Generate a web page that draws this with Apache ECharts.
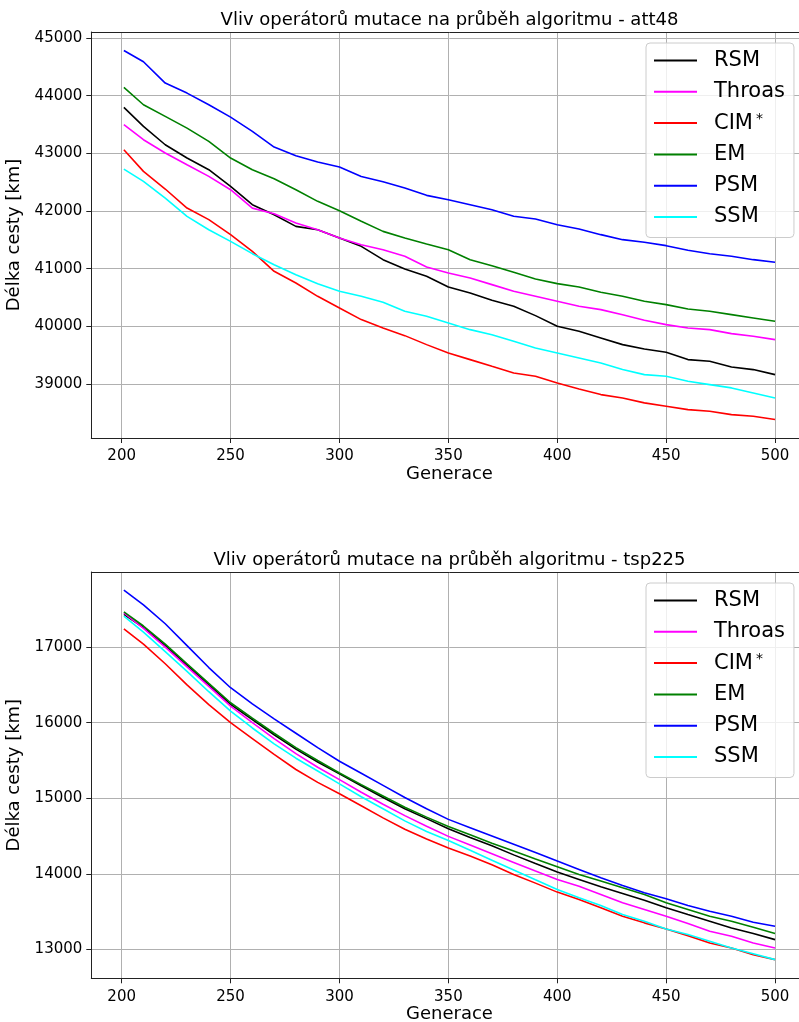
<!DOCTYPE html>
<html>
<head>
<meta charset="utf-8">
<script src="https://cdn.jsdelivr.net/npm/echarts@6/dist/echarts.min.js"></script>
<style>
html,body{margin:0;padding:0;background:#fff;overflow:hidden;width:799px;height:1022px;}
#c{width:830px;height:1022px;}
</style>
</head>
<body>
<div id="c"></div>
<script>
// ---- data ----
const generations = [201,210,220,230,240,250,260,270,280,290,300,310,320,330,340,350,360,370,380,390,400,410,420,430,440,450,460,470,480,490,500];
const seriesNames = ['RSM','Throas','CIM*','EM','PSM','SSM'];
const seriesColors = ['#000000','#ff00ff','#ff0000','#008000','#0000ff','#00ffff'];

// att48
const att48_RSM    = [43798,43468,43150,42919,42717,42428,42110,41936,41734,41676,41532,41387,41156,40994,40867,40682,40578,40451,40347,40185,40000,39913,39798,39682,39607,39549,39422,39393,39295,39249,39162];
const att48_Throas = [43497,43237,43006,42803,42601,42370,42050,41954,41792,41676,41532,41416,41329,41214,41029,40925,40838,40723,40607,40520,40434,40347,40289,40202,40104,40029,39971,39942,39873,39827,39769];
const att48_CIM    = [43064,42688,42382,42052,41850,41590,41301,40954,40751,40520,40318,40116,39971,39838,39682,39538,39422,39306,39191,39133,39017,38913,38815,38757,38671,38613,38555,38526,38468,38439,38382];
const att48_EM     = [44145,43844,43642,43439,43208,42919,42717,42561,42370,42168,42006,41821,41647,41532,41428,41329,41156,41052,40936,40821,40740,40682,40590,40520,40434,40376,40301,40260,40202,40145,40087];
const att48_PSM    = [44786,44590,44220,44046,43844,43630,43382,43110,42960,42850,42763,42600,42509,42399,42272,42197,42110,42023,41908,41861,41763,41688,41590,41503,41457,41399,41318,41260,41214,41156,41110];
const att48_SSM    = [42728,42514,42225,41908,41676,41474,41260,41069,40896,40740,40607,40520,40416,40260,40173,40058,39942,39855,39740,39624,39538,39451,39364,39249,39162,39133,39046,38988,38931,38844,38757];

// tsp225
const tsp225_RSM    = [17433,17260,17020,16760,16500,16242,16040,15840,15650,15480,15325,15165,15010,14860,14730,14595,14480,14370,14250,14135,14022,13925,13827,13739,13650,13549,13460,13372,13283,13208,13128];
const tsp225_Throas = [17455,17250,17000,16740,16480,16220,16000,15790,15590,15410,15246,15080,14920,14770,14630,14495,14380,14265,14150,14035,13925,13836,13726,13615,13527,13438,13341,13239,13173,13084,13018];
const tsp225_CIM    = [17243,17040,16780,16500,16240,16000,15790,15580,15380,15210,15060,14900,14740,14590,14460,14340,14235,14119,13991,13876,13757,13659,13549,13438,13350,13270,13181,13084,13018,12929,12863];
const tsp225_EM     = [17468,17280,17040,16780,16520,16264,16060,15860,15670,15500,15334,15180,15030,14880,14750,14625,14515,14405,14300,14195,14093,13991,13903,13814,13726,13615,13527,13438,13372,13292,13208];
const tsp225_PSM    = [17755,17560,17310,17020,16730,16463,16250,16050,15860,15670,15490,15330,15170,15010,14860,14720,14610,14500,14390,14280,14168,14058,13947,13845,13748,13668,13580,13504,13438,13358,13305];
const tsp225_SSM    = [17411,17200,16940,16680,16410,16154,15930,15720,15530,15360,15190,15020,14860,14700,14560,14440,14310,14180,14050,13920,13792,13681,13580,13460,13372,13270,13195,13106,13018,12942,12863];

const titles = ['Vliv operátorů mutace na průběh algoritmu - att48','Vliv operátorů mutace na průběh algoritmu - tsp225'];
const xName = 'Generace';
const yName = 'Délka cesty [km]';

const panels = [
  [att48_RSM, att48_Throas, att48_CIM, att48_EM, att48_PSM, att48_SSM],
  [tsp225_RSM, tsp225_Throas, tsp225_CIM, tsp225_EM, tsp225_PSM, tsp225_SSM]
];

// ---- chart ----
const FONT = 'DejaVu Sans';
const gridTops = [32, 572];
const gridH = [406, 406.3];
const yRanges = [[38062, 45106], [12616, 17995]];
const xRange = [186.05, 514.95];

const chart = echarts.init(document.getElementById('c'), null, {renderer:'canvas'});

const mainX = [0,1].map(i=>({
  type:'value', gridIndex:i, min:xRange[0], max:xRange[1],
  name:xName, nameLocation:'middle', nameGap:26,
  nameTextStyle:{fontFamily:FONT, fontSize:18, color:'#000'},
  axisLine:{show:true, onZero:false, lineStyle:{color:'#222', width:1}},
  axisTick:{show:true, inside:false, length:5, lineStyle:{color:'#222', width:1}},
  axisLabel:{show:true, margin:11, fontFamily:FONT, fontSize:15, color:'#000', showMinLabel:false, showMaxLabel:false, formatter:v=>String(v)},
  splitLine:{show:true, lineStyle:{color:'#b0b0b0', width:1}}
}));
// top spines
const topX = [0,1].map(i=>({
  type:'value', gridIndex:i, position:'top', min:xRange[0], max:xRange[1],
  axisLine:{show:true, onZero:false, lineStyle:{color:'#222', width:1}},
  axisTick:{show:false}, axisLabel:{show:false}, splitLine:{show:false}
}));

const option = {
  animation:false,
  backgroundColor:'#ffffff',
  title: titles.map((t,i)=>({
    text:t, left:449.5, textAlign:'center', top: gridTops[i]-21, padding:0,
    textStyle:{fontFamily:FONT, fontSize:18, fontWeight:'normal', color:'#000'}
  })),
  legend: [0,1].map(i=>({
    data: seriesNames.map(n=>({name:n, icon:'rect'})),
    orient:'vertical', left:646, top: gridTops[i]+11,
    itemWidth:43, itemHeight:2, itemGap:10.3,
    padding:[7,9,10,8],
    backgroundColor:'rgba(255,255,255,0.8)', borderColor:'#cccccc', borderWidth:1, borderRadius:4,
    selectedMode:false,
    formatter: n => n==='CIM*' ? 'CIM{s|*}' : n,
    textStyle:{fontFamily:FONT, fontSize:21, color:'#000', lineHeight:21, padding:[0,0,0,12],
      rich:{s:{fontFamily:FONT, fontSize:14, color:'#000', verticalAlign:'top', padding:[0,0,0,3]}}}
  })),
  grid: [0,1].map(i=>({
    left:91.3, top:gridTops[i], width:716.3, height:gridH[i],
    show:false, containLabel:false, outerBoundsMode:'none'
  })),
  xAxis: mainX.concat(topX),
  yAxis: [0,1].map(i=>({
    type:'value', gridIndex:i, min:yRanges[i][0], max:yRanges[i][1],
    name:yName, nameLocation:'middle', nameGap:59,
    nameTextStyle:{fontFamily:FONT, fontSize:18, color:'#000'},
    axisLine:{show:true, onZero:false, lineStyle:{color:'#222', width:1}},
    axisTick:{show:true, inside:false, length:5, lineStyle:{color:'#222', width:1}},
    axisLabel:{show:true, margin:9, fontFamily:FONT, fontSize:15, color:'#000', showMinLabel:false, showMaxLabel:false, formatter:v=>String(v)},
    splitLine:{show:true, lineStyle:{color:'#b0b0b0', width:1}}
  })),
  series: []
};

panels.forEach((arrs, p) => {
  arrs.forEach((vals, k) => {
    option.series.push({
      type:'line', name:seriesNames[k], xAxisIndex:p, yAxisIndex:p,
      data: generations.map((g,j)=>[g, vals[j]]),
      showSymbol:false, symbol:'none', smooth:false,
      lineStyle:{color:seriesColors[k], width:1.6},
      itemStyle:{color:seriesColors[k]},
      emphasis:{disabled:true}
    });
  });
});

chart.setOption(option);
</script>
</body>
</html>
